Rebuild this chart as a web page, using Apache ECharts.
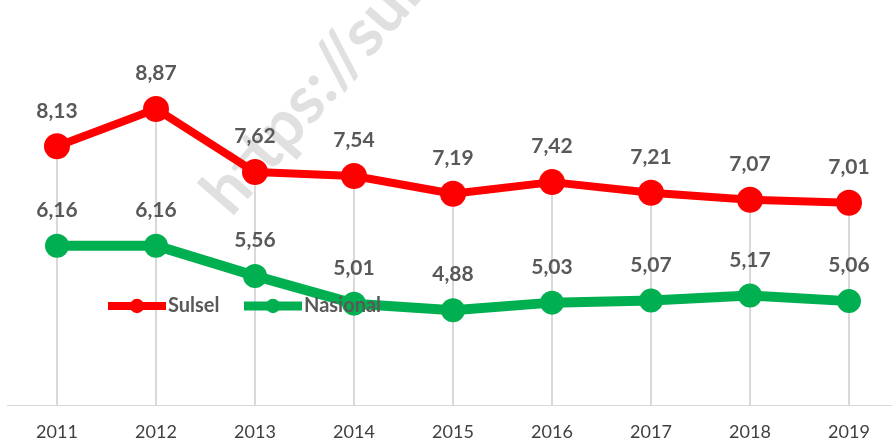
<!DOCTYPE html>
<html><head><meta charset="utf-8">
<script src="https://cdn.jsdelivr.net/npm/echarts@6/dist/echarts.min.js"></script>
<style>html,body{margin:0;padding:0;background:#fff}#c{width:892px;height:442px}</style>
</head><body><div id="c"></div>
<script>
const years = ['2011','2012','2013','2014','2015','2016','2017','2018','2019'];
const sulsel = [8.13, 8.87, 7.62, 7.54, 7.19, 7.42, 7.21, 7.07, 7.01];
const nasional = [6.16, 6.16, 5.56, 5.01, 4.88, 5.03, 5.07, 5.17, 5.06];
const watermark = 'https://sulsel';

const font = 'Lato, "Open Sans", sans-serif';
const fmt = p => String(p.value.toFixed(2)).replace('.', ',');
const chart = echarts.init(document.getElementById('c'));
chart.setOption({
  animation: false,
  backgroundColor: '#fff',
  graphic: [{
    type: 'text', x: 240, y: 226, z: 0, rotation: 49 * Math.PI / 180,
    style: { text: watermark, font: 'bold 66px ' + font, fill: '#e0e0e0', textAlign: 'left', textVerticalAlign: 'bottom' }
  }],
  grid: { left: 7.5, width: 891, top: 52, bottom: 37, outerBoundsMode: 'none', containLabel: false },
  legend: {
    data: [
      { name: 'Sulsel', lineStyle: { width: 8 } },
      { name: 'Nasional', lineStyle: { width: 9 } }
    ],
    left: 104, top: 296, padding: 0, itemWidth: 58, itemHeight: 18, itemGap: 20,
    textStyle: { color: '#595959', fontWeight: 'bold', fontSize: 20, fontFamily: font, padding: [0,0,0,-3] }
  },
  xAxis: {
    type: 'category', data: years,
    axisLine: { lineStyle: { color: '#d9d9d9', width: 1 } },
    axisTick: { show: false },
    axisLabel: { color: '#404040', fontSize: 18, fontFamily: font, margin: 18 }
  },
  yAxis: { type: 'value', min: 3, max: 10, show: false, splitLine: { show: false } },
  series: [
    { name: 'drop', type: 'bar', data: sulsel, barWidth: 2, itemStyle: { color: '#d9d9d9' }, z: 1, silent: true },
    { name: 'Sulsel', type: 'line', data: sulsel, symbol: 'circle', symbolSize: 26,
      lineStyle: { color: '#ff0000', width: 8 }, itemStyle: { color: '#ff0000' }, z: 3,
      label: { show: true, position: 'top', distance: 12, formatter: fmt, color: '#595959', fontWeight: 'bold', fontSize: 21, fontFamily: font } },
    { name: 'Nasional', type: 'line', data: nasional, symbol: 'circle', symbolSize: 24,
      lineStyle: { color: '#00b050', width: 10 }, itemStyle: { color: '#00b050' }, z: 3,
      label: { show: true, position: 'top', distance: 13, formatter: fmt, color: '#595959', fontWeight: 'bold', fontSize: 21, fontFamily: font } }
  ]
});
</script></body></html>
